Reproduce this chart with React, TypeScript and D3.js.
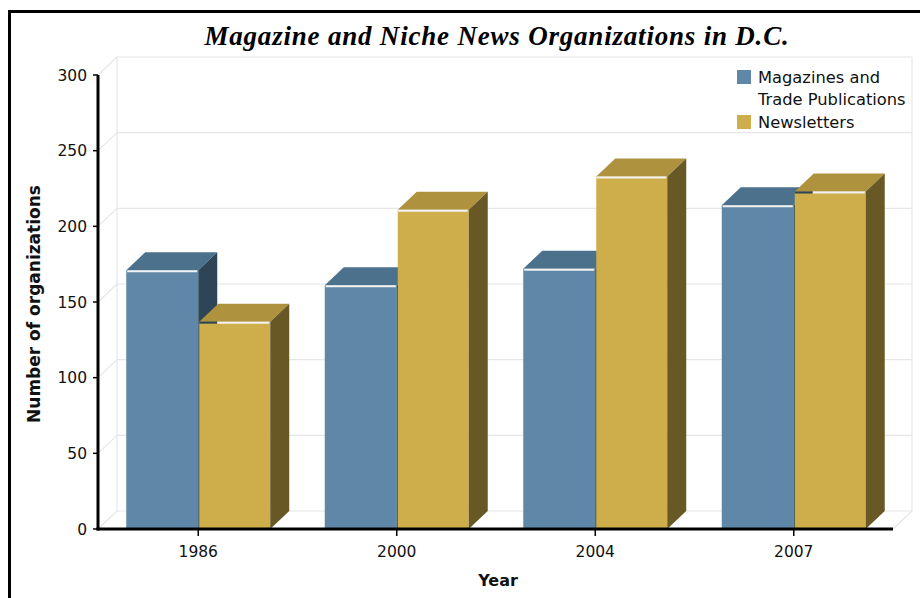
import React from 'react';
import * as d3 from 'd3';

const years = ['1986', '2000', '2004', '2007'];
const magazines = [171, 161, 172, 214];
const newsletters = [137, 211, 233, 223];
const yTicks = [0, 50, 100, 150, 200, 250, 300];
const legendLines = [['Magazines and', 'Trade Publications'], ['Newsletters']];

const W = 920;
const H = 598;
const left = 98;
const right = 893;
const top = 75;
const bottom = 529;
const DX = 19;
const DY = 18;

const FRONT = ['#5f88a8', '#cdae4a'];
const TOPC = ['#4c718d', '#ae923e'];
const SIDE = ['#2e4557', '#685826'];
const GRID = '#e6e6e6';
const SANS = '"DejaVu Sans", Verdana, sans-serif';

export default function App() {
  const y = d3.scaleLinear().domain([0, 300]).range([bottom, top]);
  const x = d3.scaleBand().domain(years).range([99, 893]).paddingInner(0.2746).paddingOuter(0.1373);
  const sub = d3.scaleBand().domain(['m', 'n']).range([0, x.bandwidth()]);
  const bw = sub.bandwidth();

  const poly = (pts: [number, number][]) => pts.map((p) => p.join(',')).join(' ');

  const bar = (bx: number, w: number, v: number, s: number, key: string) => {
    const t = y(v);
    return (
      <g key={key}>
        <rect x={bx} y={t} width={w} height={bottom - t} fill={FRONT[s]} />
        <polygon points={poly([[bx, t], [bx + DX, t - DY], [bx + w + DX, t - DY], [bx + w, t]])} fill={TOPC[s]} />
        <polygon points={poly([[bx + w, t], [bx + w + DX, t - DY], [bx + w + DX, bottom - DY], [bx + w, bottom]])} fill={SIDE[s]} />
      </g>
    );
  };

  return (
    <svg width={W} height={H} style={{ position: 'absolute', left: 0, top: 0, background: '#fff' }}>
      <rect x={0} y={0} width={W} height={H} fill="#fff" />
      {/* frame */}
      <path d={`M9.5,${H} V11.5 H${W}`} fill="none" stroke="#000" strokeWidth={3} />

      {/* title */}
      <text x={497} y={45} textAnchor="middle" fontFamily='"Liberation Serif", "Times New Roman", serif'
        fontStyle="italic" fontWeight="bold" fontSize={27} letterSpacing={0.8} fill="#000">
        Magazine and Niche News Organizations in D.C.
      </text>

      {/* 3D walls and grid */}
      <g stroke={GRID} strokeWidth={1.2} fill="none">
        {yTicks.map((t) => (
          <g key={t}>
            <line x1={left} y1={y(t)} x2={left + DX} y2={y(t) - DY} />
            <line x1={left + DX} y1={y(t) - DY} x2={right + DX} y2={y(t) - DY} />
          </g>
        ))}
        <line x1={left + DX} y1={top - DY} x2={left + DX} y2={bottom - DY} />
        <line x1={right + DX} y1={top - DY} x2={right + DX} y2={bottom - DY} />
        <line x1={right} y1={bottom} x2={right + DX} y2={bottom - DY} />
      </g>

      {/* bars */}
      {years.map((yr, i) => {
        const cx = x(yr)!;
        const bx = cx + sub('m')!;
        const gx = cx + sub('n')! + 1;
        const bTop = y(magazines[i]);
        const gTop = y(newsletters[i]);
        const covered = gTop >= bTop - DY;
        const hlStart = covered ? Math.max(gx, bx + bw + DX) : gx;
        return (
          <g key={yr}>
            {bar(bx, bw, magazines[i], 0, 'm')}
            {bar(gx, bw - 1, newsletters[i], 1, 'n')}
            <line x1={bx + 1} x2={bx + bw - 1} y1={bTop + 1} y2={bTop + 1} stroke="#f2f2f2" strokeWidth={2} />
            {covered && (
              <line x1={gx} x2={hlStart} y1={gTop + 1} y2={gTop + 1} stroke={SIDE[0]} strokeWidth={2} />
            )}
            <line x1={hlStart} x2={gx + bw - 2} y1={gTop + 1} y2={gTop + 1} stroke="#f2f2f2" strokeWidth={2} />
          </g>
        );
      })}

      {/* axes */}
      <line x1={left} y1={top} x2={left} y2={bottom + 1.5} stroke="#000" strokeWidth={3} />
      <line x1={left - 1.5} y1={bottom} x2={right} y2={bottom} stroke="#000" strokeWidth={3} />
      {yTicks.map((t) => (
        <g key={t}>
          <line x1={left - 5} x2={left} y1={y(t)} y2={y(t)} stroke="#000" strokeWidth={1.5} />
          <text x={left - 11} y={y(t) + 5.5} textAnchor="end" fontFamily={SANS} fontSize={15.5} fill="#111">
            {t}
          </text>
        </g>
      ))}
      {years.map((yr) => {
        const cx = x(yr)! + x.bandwidth() / 2;
        return (
          <g key={yr}>
            <line x1={cx} x2={cx} y1={bottom} y2={bottom + 7} stroke="#000" strokeWidth={1.5} />
            <text x={cx} y={bottom + 28} textAnchor="middle" fontFamily={SANS} fontSize={15.5} fill="#111">
              {yr}
            </text>
          </g>
        );
      })}

      {/* axis titles */}
      <text x={498} y={586} textAnchor="middle" fontFamily={SANS} fontWeight="bold" fontSize={16} fill="#111">
        Year
      </text>
      <text transform="translate(40,304) rotate(-90)" textAnchor="middle" fontFamily={SANS} fontWeight="bold"
        fontSize={17} fill="#111">
        Number of organizations
      </text>

      {/* legend */}
      <g fontFamily={SANS} fontSize={16.3} fill="#111">
        <rect x={737} y={70} width={14} height={14} fill={FRONT[0]} />
        <text x={758} y={83}>{legendLines[0][0]}</text>
        <text x={758} y={105}>{legendLines[0][1]}</text>
        <rect x={737} y={115} width={14} height={14} fill={FRONT[1]} />
        <text x={758} y={128}>{legendLines[1][0]}</text>
      </g>
    </svg>
  );
}
